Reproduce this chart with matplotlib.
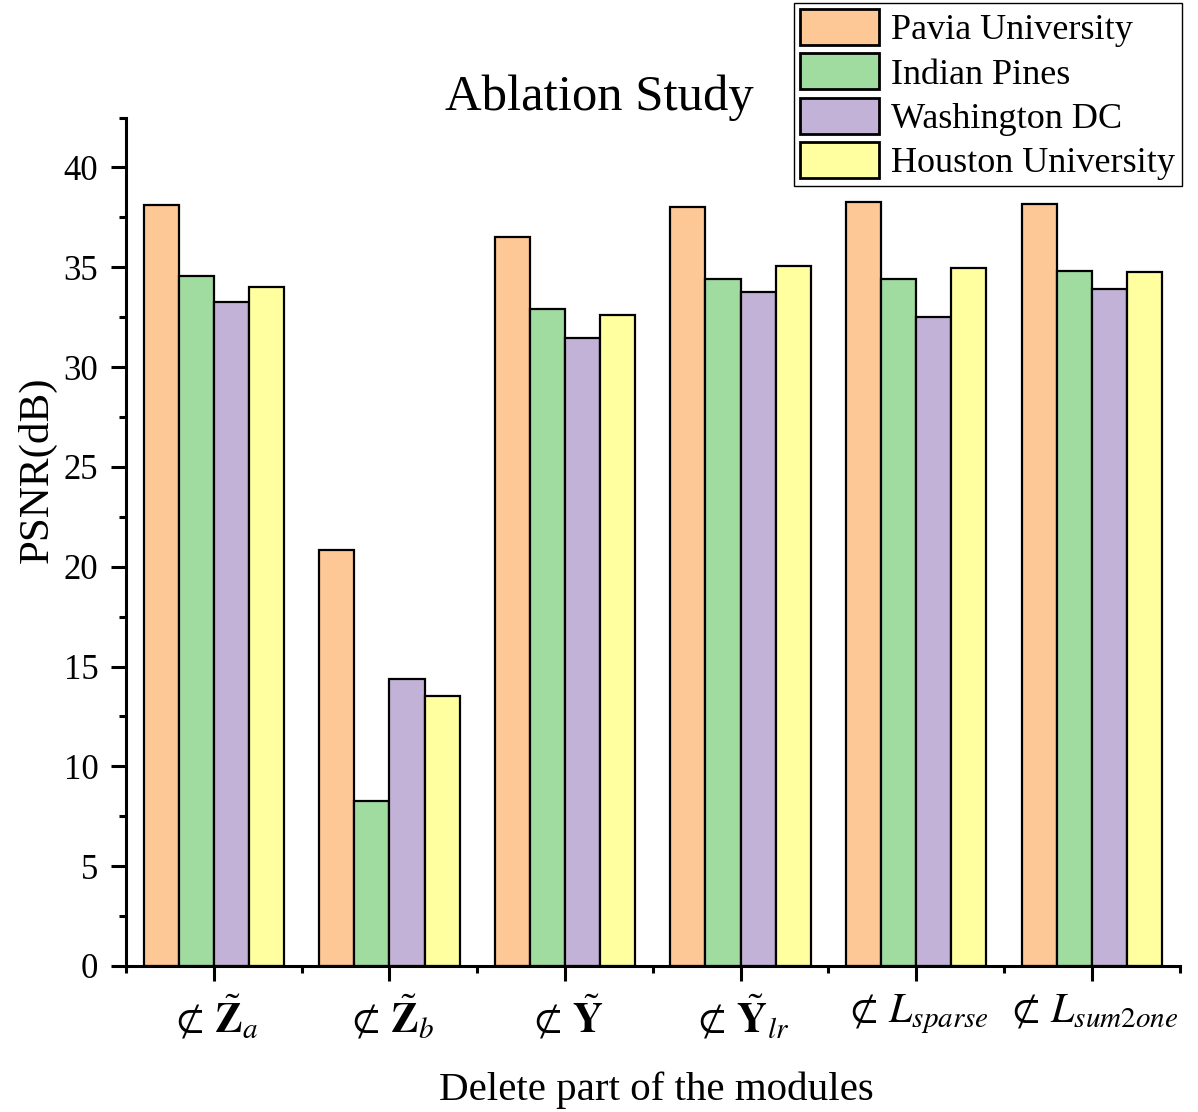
import numpy as np
import matplotlib
matplotlib.use("Agg")
import matplotlib.pyplot as plt
from matplotlib.ticker import MultipleLocator, FixedLocator

# ---------- Data ----------
modules = [r'$\nsubset\,\tilde{\mathbf{Z}}_{a}$',
           r'$\nsubset\,\tilde{\mathbf{Z}}_{b}$',
           r'$\nsubset\,\tilde{\mathbf{Y}}$',
           r'$\nsubset\,\tilde{\mathbf{Y}}_{lr}$',
           r'$\nsubset\,L_{sparse}$',
           r'$\nsubset\,L_{\mathit{sum2one}}$']
datasets = ['Pavia University', 'Indian Pines', 'Washington DC', 'Houston University']
pavia = [38.1, 20.85, 36.5, 38.0, 38.25, 38.15]
indian = [34.55, 8.25, 32.9, 34.4, 34.4, 34.8]
washington = [33.25, 14.4, 31.45, 33.75, 32.5, 33.9]
houston = [34.0, 13.5, 32.6, 35.05, 34.95, 34.75]
colors = ['#FEC896', '#A0DBA0', '#C3B2D7', '#FFFFA0']

plt.rcParams['font.family'] = ['Liberation Serif', 'DejaVu Serif']
plt.rcParams['mathtext.fontset'] = 'stix'

fig = plt.figure(figsize=(11.98, 11.12), dpi=100)
ax = fig.add_axes([0.1052, 0.1313, 0.9846 - 0.1052, 0.8943 - 0.1313])

x = np.arange(len(modules))
w = 0.2
series = [pavia, indian, washington, houston]
for i, (vals, name, c) in enumerate(zip(series, datasets, colors)):
    ax.bar(x + (i - 1.5) * w, vals, width=w, color=c, edgecolor='black',
           linewidth=1.6, label=name)

ax.set_xlim(-0.5, 5.5)
ax.set_ylim(0, 42.5)
ax.yaxis.set_major_locator(MultipleLocator(5))
ax.yaxis.set_minor_locator(MultipleLocator(2.5))
ax.set_xticks(x)
ax.set_xticklabels(modules)
ax.xaxis.set_minor_locator(FixedLocator(np.arange(-0.5, 6, 1)))

for s in ['top', 'right']:
    ax.spines[s].set_visible(False)
for s in ['left', 'bottom']:
    ax.spines[s].set_linewidth(2.2)

ax.tick_params(axis='y', which='major', length=11, width=2.2, labelsize=25, pad=9)
ax.tick_params(axis='y', which='minor', length=5, width=2.2)
ax.tick_params(axis='x', which='major', length=11, width=2.2, labelsize=30, pad=8)
ax.tick_params(axis='x', which='minor', length=5, width=2.2)

fig.text(0.5, 1 - 110 / 1112, 'Ablation Study', fontsize=36.5, ha='center', va='baseline')
fig.text(656.5 / 1198, 1 - 1100 / 1112, 'Delete part of the modules', fontsize=29.5,
         ha='center', va='baseline')
fig.text(37 / 1198, 1 - 470 / 1112, 'PSNR(dB)', fontsize=31, rotation=90,
         ha='center', va='center')

leg = fig.legend(loc='upper right', bbox_to_anchor=(1181.6 / 1198, 1 - 3 / 1112),
                 fontsize=26, frameon=True, fancybox=False, framealpha=1,
                 edgecolor='black', borderaxespad=0, borderpad=0.17,
                 handlelength=2.2, handleheight=1.15, labelspacing=0.17,
                 handletextpad=0.34)
leg.get_frame().set_linewidth(1.0)
for p in leg.get_patches():
    p.set_linewidth(2.0)

fig.savefig('out.png', dpi=100)
